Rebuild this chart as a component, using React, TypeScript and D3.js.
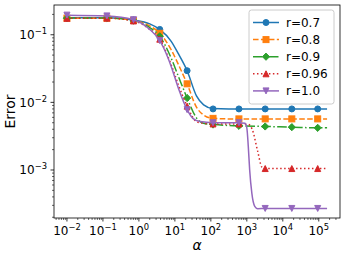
import React from 'react';
import * as d3 from 'd3';

// ---- data (alpha, error) ----
const seriesNames = ['r=0.7', 'r=0.8', 'r=0.9', 'r=0.96', 'r=1.0'];
const markerAlpha = [0.01, 0.129, 0.708, 3.8, 21.9, 115, 603, 3240, 17800, 93300];
const markers_r07 = [0.178, 0.178, 0.165, 0.12, 0.0294, 0.008, 0.008, 0.008, 0.008, 0.008];
const markers_r08 = [0.176, 0.176, 0.163, 0.105, 0.0188, 0.0058, 0.0057, 0.0057, 0.0057, 0.0057];
const markers_r09 = [0.176, 0.177, 0.162, 0.095, 0.0116, 0.0047, 0.0045, 0.0044, 0.0043, 0.0042];
const markers_r096 = [0.175, 0.176, 0.16, 0.086, 0.0088, 0.0048, 0.0048, 0.00105, 0.00105, 0.00105];
const markers_r10 = [0.195, 0.19, 0.167, 0.082, 0.0078, 0.005, 0.005, 0.00027, 0.00027, 0.00027];

const curve_r07: [number, number][] = [[0.01,0.178],[0.129,0.178],[0.708,0.165],[2.0,0.145],[3.8,0.12],[7.9,0.08],[12.6,0.052],[21.9,0.0294],[39.8,0.0125],[63,0.0092],[115,0.0081],[316,0.008],[170000,0.008]];
const curve_r08: [number, number][] = [[0.01,0.176],[0.129,0.176],[0.708,0.163],[2.0,0.135],[3.8,0.105],[7.9,0.06],[12.6,0.036],[21.9,0.0188],[39.8,0.0085],[63,0.0065],[115,0.0058],[316,0.0057],[170000,0.0057]];
const curve_r09: [number, number][] = [[0.01,0.176],[0.129,0.177],[0.708,0.162],[2.0,0.128],[3.8,0.095],[7.9,0.045],[12.6,0.024],[21.9,0.0116],[39.8,0.0059],[63,0.0049],[115,0.0047],[603,0.0045],[3240,0.0044],[17800,0.0043],[93300,0.0042],[170000,0.0042]];
const curve_r096: [number, number][] = [[0.01,0.175],[0.129,0.176],[0.708,0.16],[2.0,0.12],[3.8,0.086],[7.9,0.036],[12.6,0.018],[21.9,0.0088],[39.8,0.0052],[63,0.0049],[115,0.0048],[603,0.0048],[1120,0.0047],[1410,0.004],[2000,0.0019],[2630,0.0011],[3240,0.00105],[170000,0.00105]];
const curve_r10: [number, number][] = [[0.01,0.195],[0.129,0.19],[0.708,0.167],[2.0,0.12],[3.8,0.082],[5.0,0.062],[7.9,0.034],[12.6,0.016],[21.9,0.0078],[31.6,0.0058],[50,0.0052],[115,0.005],[603,0.005],[891,0.0049],[1000,0.0042],[1100,0.0022],[1200,0.001],[1380,0.00045],[1660,0.00029],[2000,0.000268],[3240,0.00027],[170000,0.00027]];

const xTickExps = [-2, -1, 0, 1, 2, 3, 4, 5];
const yTickExps = [-3, -2, -1];

const colors = ['#1f77b4', '#ff7f0e', '#2ca02c', '#d62728', '#9467bd'];
const dashes = ['', '5.55,2.4', '9.6,2.4,1.5,2.4', '1.5,2.475', ''];
const shapes = ['circle', 'square', 'diamond', 'tri-up', 'tri-down'];

const W = 346, H = 258;
const L = 54, R = 340, T = 5, B = 218;
const FONT = 'DejaVu Sans, sans-serif';

const x = d3.scaleLog().domain([Math.pow(10, -2.36), Math.pow(10, 5.59)]).range([L, R]);
const y = d3.scaleLog().domain([Math.pow(10, -3.71), Math.pow(10, -0.56)]).range([B, T]);

function Marker({ shape, cx, cy, color }: { shape: string; cx: number; cy: number; color: string }) {
  const s = 3;
  if (shape === 'circle') return <circle cx={cx} cy={cy} r={s} fill={color} stroke={color} strokeWidth={1} />;
  if (shape === 'square') return <rect x={cx - s} y={cy - s} width={2 * s} height={2 * s} fill={color} stroke={color} strokeWidth={1} />;
  let pts: [number, number][] = [];
  if (shape === 'diamond') { const d = s * 1.2; pts = [[cx, cy - d], [cx + d, cy], [cx, cy + d], [cx - d, cy]]; }
  if (shape === 'tri-up') pts = [[cx, cy - s], [cx + s, cy + s], [cx - s, cy + s]];
  if (shape === 'tri-down') pts = [[cx, cy + s], [cx + s, cy - s], [cx - s, cy - s]];
  return <polygon points={pts.map(p => p.join(',')).join(' ')} fill={color} stroke={color} strokeWidth={1} strokeLinejoin="miter" />;
}

function Pow10({ e, ...rest }: any) {
  const s = e < 0 ? '\u2212' + Math.abs(e) : String(e);
  return (
    <text {...rest} fontFamily={FONT} fontSize={12} fill="#000">
      10<tspan fontSize={8.4} dy={-5}>{s}</tspan>
    </text>
  );
}

export default function App() {
  const curves = [curve_r07, curve_r08, curve_r09, curve_r096, curve_r10];
  const markerSets = [markers_r07, markers_r08, markers_r09, markers_r096, markers_r10];
  const line = d3.line<[number, number]>().x(d => x(d[0])).y(d => y(d[1])).curve(d3.curveMonotoneX);

  const xMinor: number[] = [];
  for (let e = -3; e <= 6; e++) for (let k = 2; k <= 9; k++) { const v = k * Math.pow(10, e); const px = x(v); if (px >= L && px <= R) xMinor.push(v); }
  const yMinor: number[] = [];
  for (let e = -4; e <= 0; e++) for (let k = 2; k <= 9; k++) { const v = k * Math.pow(10, e); const py = y(v); if (py >= T && py <= B) yMinor.push(v); }

  const legendY0 = 22.5, legendStep = 17.1;

  return (
    <svg width={W} height={H} style={{ position: 'absolute', left: 0, top: 0, background: '#fff' }}>
      <rect x={0} y={0} width={W} height={H} fill="#fff" />
      <defs>
        <clipPath id="plot"><rect x={L} y={T} width={R - L} height={B - T} /></clipPath>
      </defs>
      <g clipPath="url(#plot)">
        {curves.map((c, i) => (
          <g key={i}>
            <path d={line(c) || ''} fill="none" stroke={colors[i]} strokeWidth={1.5} strokeDasharray={dashes[i] || undefined} />
            {markerAlpha.map((a, j) => (
              <Marker key={j} shape={shapes[i]} cx={x(a)} cy={y(markerSets[i][j])} color={colors[i]} />
            ))}
          </g>
        ))}
      </g>
      {/* spines */}
      <rect x={L} y={T} width={R - L} height={B - T} fill="none" stroke="#000" strokeWidth={0.8} />
      {/* x ticks */}
      {xTickExps.map(e => {
        const px = x(Math.pow(10, e));
        return (
          <g key={'xt' + e}>
            <line x1={px} x2={px} y1={B} y2={B + 3.5} stroke="#000" strokeWidth={0.8} />
            <Pow10 e={e} x={px} y={235} textAnchor="middle" />
          </g>
        );
      })}
      {xMinor.map((v, i) => <line key={'xm' + i} x1={x(v)} x2={x(v)} y1={B} y2={B + 2} stroke="#000" strokeWidth={0.6} />)}
      {yTickExps.map(e => {
        const py = y(Math.pow(10, e));
        return (
          <g key={'yt' + e}>
            <line x1={L - 3.5} x2={L} y1={py} y2={py} stroke="#000" strokeWidth={0.8} />
            <Pow10 e={e} x={47} y={py + 4.5} textAnchor="end" />
          </g>
        );
      })}
      {yMinor.map((v, i) => <line key={'ym' + i} x1={L - 2} x2={L} y1={y(v)} y2={y(v)} stroke="#000" strokeWidth={0.6} />)}
      {/* axis labels */}
      <text x={(L + R) / 2} y={250} textAnchor="middle" fontFamily={FONT} fontSize={14} fontStyle="italic">α</text>
      <text transform={`translate(15,${(T + B) / 2}) rotate(-90)`} textAnchor="middle" fontFamily={FONT} fontSize={14}>Error</text>
      {/* legend */}
      <rect x={249} y={10} width={85} height={94} rx={2.5} fill="#fff" fillOpacity={0.8} stroke="#ccc" strokeWidth={1} />
      {seriesNames.map((n, i) => {
        const ly = legendY0 + i * legendStep;
        return (
          <g key={'lg' + i}>
            <line x1={253} x2={279} y1={ly} y2={ly} stroke={colors[i]} strokeWidth={1.5} strokeDasharray={dashes[i] || undefined} />
            <Marker shape={shapes[i]} cx={266} cy={ly} color={colors[i]} />
            <text x={286} y={ly + 4.3} fontFamily={FONT} fontSize={12}>{n}</text>
          </g>
        );
      })}
    </svg>
  );
}
